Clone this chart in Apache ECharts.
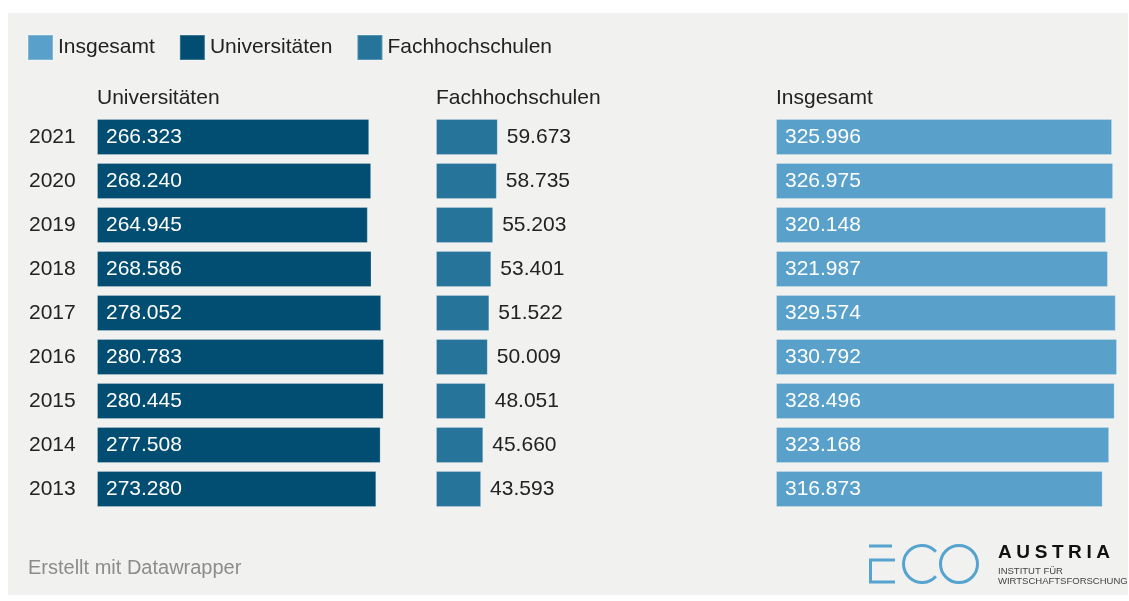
<!DOCTYPE html>
<html>
<head>
<meta charset="utf-8">
<script src="https://cdn.jsdelivr.net/npm/echarts@6/dist/echarts.min.js"></script>
<style>
html,body{margin:0;padding:0;background:#ffffff;}
#bg{position:absolute;left:8px;top:13px;width:1120px;height:582px;background:#f1f1ef;}
#main{position:absolute;left:0;top:0;width:1129px;height:601px;}
</style>
</head>
<body>
<div id="bg"></div>
<div id="main"></div>
<script>
const years = ['2021','2020','2019','2018','2017','2016','2015','2014','2013'];
const universitaeten = [266323,268240,264945,268586,278052,280783,280445,277508,273280];
const fachhochschulen = [59673,58735,55203,53401,51522,50009,48051,45660,43593];
const insgesamt = [325996,326975,320148,321987,329574,330792,328496,323168,316873];
const legendNames = ['Insgesamt','Universitäten','Fachhochschulen'];

const FONT = '"Liberation Sans", Arial, sans-serif';
const fmt = v => String(v).replace(/\B(?=(\d{3})+(?!\d))/g, '.');
const C_UNI = '#024e73', C_FH = '#27749b', C_INS = '#59a1ca';

const chart = echarts.init(document.getElementById('main'), null, {renderer:'canvas'});

const gridTop = 115, gridH = 396;
const grids = [
  {left:97, top:gridTop, width:306.6, height:gridH},
  {left:436, top:gridTop, width:103.5, height:gridH},
  {left:776, top:gridTop, width:350.5, height:gridH}
];
const maxes = [300000, 100000, 340000];

const xAxes = grids.map((g,i)=>({type:'value', gridIndex:i, min:0, max:maxes[i], show:false}));
const yAxes = grids.map((g,i)=>({
  type:'category', gridIndex:i, data:years, inverse:true,
  axisLine:{show:false}, axisTick:{show:false}, splitLine:{show:false},
  axisLabel:{show:i===0, align:'left', margin:68, color:'#222', fontSize:21, fontFamily:FONT}
}));

function barSeries(name, data, idx, color, inside){
  return {
    name, type:'bar', xAxisIndex:idx, yAxisIndex:idx, data, barWidth:36,
    itemStyle:{color, borderColor:'rgba(255,255,255,0.22)', borderWidth:1},
    label:{show:true, position: inside ? 'insideLeft' : 'right', distance:9,
      color: inside ? '#ffffff' : '#222', fontSize:21, fontFamily:FONT,
      formatter: p => fmt(p.value)},
    silent:true, animation:false
  };
}

const logoColor = '#56a3cf';
const austria = 'AUSTRIA';
const wBold = {A:.722,U:.722,S:.667,T:.611,R:.722,I:.278};
let ax = 998; const aFs = 19, aSp = 4.6;
const austriaEls = [];
for (const ch of austria){
  austriaEls.push({type:'text', left:ax, top:543, style:{text:ch, fill:'#111', font:'bold '+aFs+'px '+FONT}});
  ax += wBold[ch]*aFs + aSp;
}

const titleStyle = {fontWeight:'normal', fontSize:21, color:'#222', fontFamily:FONT};
const option = {
  backgroundColor:'transparent',
  animation:false,
  textStyle:{fontFamily:FONT},
  legend:{
    data:legendNames, left:27, top:34, padding:0, itemWidth:25, itemHeight:25, itemGap:24,
    icon:'rect', selectedMode:false,
    textStyle:{color:'#222', fontSize:21, fontFamily:FONT}
  },
  title:[
    {text:'Universitäten', left:97, top:88, textStyle:titleStyle, padding:0},
    {text:'Fachhochschulen', left:436, top:88, textStyle:titleStyle, padding:0},
    {text:'Insgesamt', left:776, top:88, textStyle:titleStyle, padding:0},
    {text:'Erstellt mit Datawrapper', left:28, top:558, textStyle:{fontWeight:'normal', fontSize:20, color:'#8c8c8c', fontFamily:FONT}, padding:0}
  ],
  grid:grids,
  xAxis:xAxes,
  yAxis:yAxes,
  series:[
    barSeries('Universitäten', universitaeten, 0, C_UNI, true),
    barSeries('Fachhochschulen', fachhochschulen, 1, C_FH, false),
    barSeries('Insgesamt', insgesamt, 2, C_INS, true)
  ],
  graphic:[
    {type:'line', shape:{x1:869,y1:546,x2:892,y2:546}, style:{stroke:logoColor, lineWidth:3}},
    {type:'polyline', shape:{points:[[895,560],[870.5,560],[870.5,582],[895,582]]}, style:{stroke:logoColor, lineWidth:3, fill:null}},
    {type:'arc', shape:{cx:922, cy:564, r:18.5, startAngle:0.72, endAngle:Math.PI*2-0.72, clockwise:true}, style:{stroke:logoColor, lineWidth:3, fill:null}},
    {type:'circle', shape:{cx:959, cy:564, r:18.5}, style:{stroke:logoColor, lineWidth:3, fill:null}},
    ...austriaEls,
    {type:'text', left:998, top:566, style:{text:'INSTITUT FÜR', fill:'#444', font:'9.5px '+FONT}},
    {type:'text', left:998, top:576, style:{text:'WIRTSCHAFTSFORSCHUNG', fill:'#444', font:'9.5px '+FONT}}
  ]
};
chart.setOption(option);
</script>
</body>
</html>
